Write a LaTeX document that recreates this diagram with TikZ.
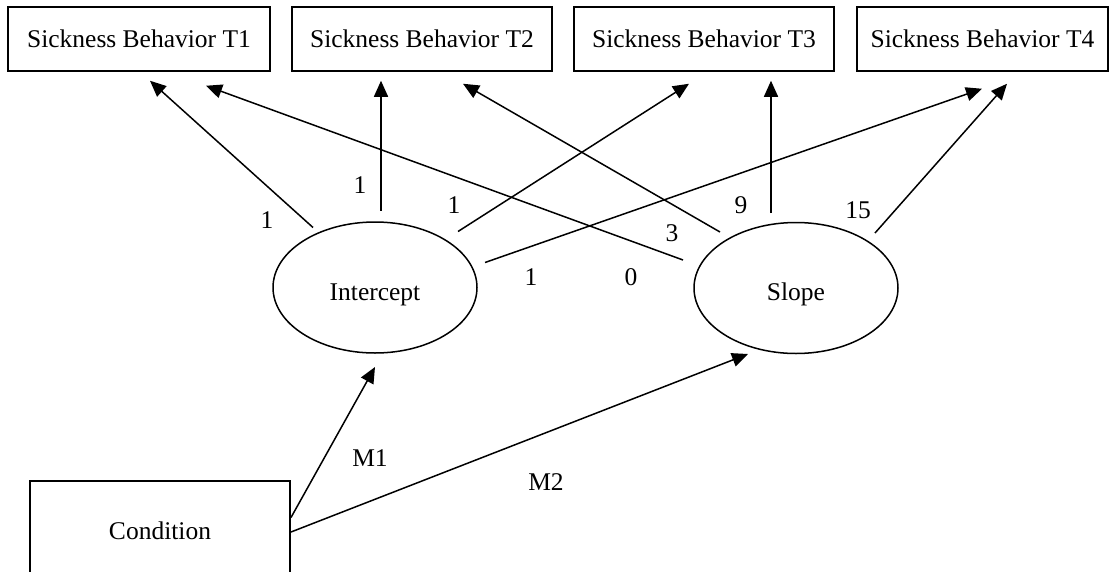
\documentclass[tikz,border=0pt]{standalone}
\usepackage{fontspec}
\setmainfont{Liberation Serif}
\usetikzlibrary{arrows.meta,shapes.geometric}
\begin{document}
\begin{tikzpicture}[x=1pt,y=-1pt,
  every node/.style={font=\fontsize{25.5}{30}\selectfont},
  box/.style={draw,line width=1.5pt,rectangle,inner sep=0pt,minimum height=64pt},
  lat/.style={draw,line width=1.5pt,ellipse,inner sep=0pt,minimum width=204pt,minimum height=131pt,text height=25.5pt,text depth=0pt},
  conn/.style={line width=1.5pt,-{Triangle[length=16pt,width=14pt]}},
  lbl/.style={inner sep=0pt}]
\useasboundingbox (0,0) rectangle (1109,571);
\clip (0,0) rectangle (1109,571);
% observed variables
\node[box,minimum width=262pt] (T1) at (139,39) {Sickness Behavior T1};
\node[box,minimum width=260pt] (T2) at (422,39) {Sickness Behavior T2};
\node[box,minimum width=260pt] (T3) at (704,39) {Sickness Behavior T3};
\node[box,minimum width=251pt] (T4) at (982.5,39) {Sickness Behavior T4};
% latent variables
\node[lat] (I) at (375,287.5) {Intercept};
\node[lat] (S) at (796,288) {Slope};
% predictor
\node[box,minimum width=260pt,minimum height=99pt] (C) at (160,530.5) {Condition};
% intercept loadings
\draw[conn] ([shift={(-62,-60)}]I.center) -- ([shift={(11,9)}]T1.south);
\draw[conn] ([shift={(6,-77)}]I.center) -- ([shift={(-41,9)}]T2.south);
\draw[conn] ([shift={(83,-56)}]I.center) -- ([shift={(-15,12)}]T3.south);
\draw[conn] ([shift={(110,-25)}]I.center) -- ([shift={(-0.5,17)}]T4.south);
% slope loadings
\draw[conn] ([shift={(-113,-28)}]S.center) -- ([shift={(67,14)}]T1.south);
\draw[conn] ([shift={(-76,-56)}]S.center) -- ([shift={(41,12)}]T2.south);
\draw[conn] ([shift={(-25,-75)}]S.center) -- ([shift={(67,9)}]T3.south);
\draw[conn] ([shift={(79,-55)}]S.center) -- ([shift={(24.5,12)}]T4.south);
% regressions
\draw[conn] ([shift={(131,-13)}]C.center) -- ([shift={(0,79.5)}]I.center);
\draw[conn] ([shift={(131,1.5)}]C.center) -- ([shift={(-48,66)}]S.center);
% labels
\node[lbl] (l1) at (267,220) {1};
\node[lbl] (l2) at (360,185) {1};
\node[lbl] (l3) at (454,205) {1};
\node[lbl] (l4) at (531,277) {1};
\node[lbl] (l5) at (631,277) {0};
\node[lbl] (l6) at (672,233) {3};
\node[lbl] (l7) at (741,205) {9};
\node[lbl] (l8) at (858,210) {15};
\node[lbl] (m1) at (370,458) {M1};
\node[lbl] (m2) at (546,482) {M2};
\end{tikzpicture}
\end{document}
